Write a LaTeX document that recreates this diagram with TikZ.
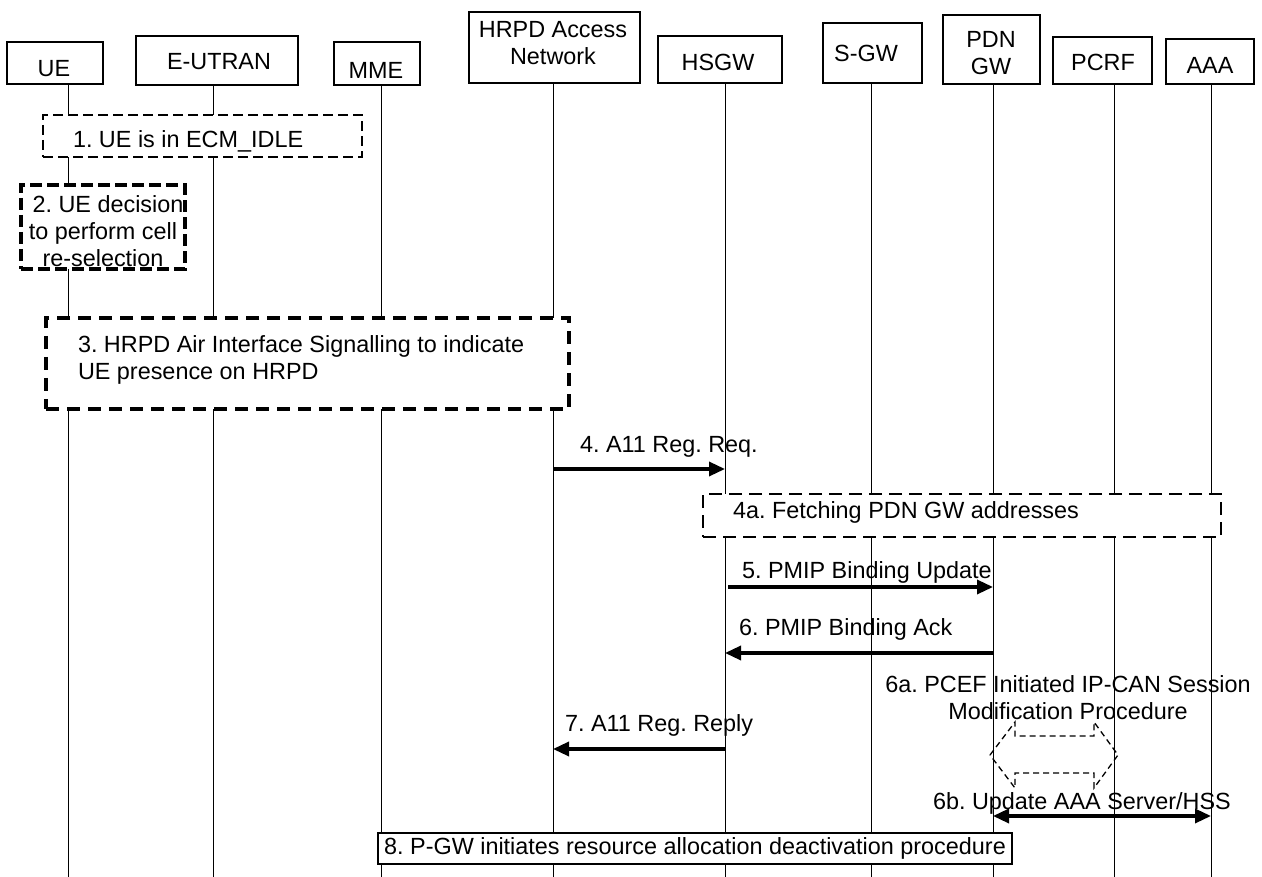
\documentclass[tikz,border=0pt]{standalone}
\usepackage{fontspec}
\setmainfont{Liberation Sans}
\usetikzlibrary{arrows.meta}
\begin{document}
\frenchspacing
\begin{tikzpicture}[x=1pt,y=-1pt,
  every node/.style={font=\fontsize{23.4}{27}\selectfont\frenchspacing, inner sep=0pt, outer sep=0pt},
  hbox/.style={draw, line width=1.3pt, fill=white},
  life/.style={line width=1pt},
  dboxA/.style={draw, fill=white, line width=2.7pt, dash pattern=on 10pt off 5pt},
  dboxB/.style={draw, fill=white, line width=3.3pt, dash pattern=on 12pt off 5pt},
  dboxC/.style={draw, fill=white, line width=4pt, dash pattern=on 13pt off 8pt},
  dboxD/.style={draw, fill=white, line width=2.7pt, dash pattern=on 13pt off 7pt},
  sbox/.style={draw, fill=white, line width=1.6pt},
  msg/.style={line width=3.3pt, -{Triangle[length=16pt,width=14pt]}},
  msgboth/.style={line width=3.3pt, {Triangle[length=16pt,width=14pt]}-{Triangle[length=16pt,width=14pt]}},
  hexa/.style={line width=1.3pt, dash pattern=on 6pt off 4pt},
  lbl/.style={anchor=base west}]
\useasboundingbox (0,0) rectangle (1262,877);

% lifelines
\foreach \n/\x in {ue/68,eu/213,mme/381,hrpd/553,hsgw/725,sgw/871,pdn/993,pcrf/1114,aaa/1211}{
  \coordinate (\n T) at (\x,84);
  \coordinate (\n B) at (\x,877);
  \draw[life] (\n T) -- (\n B);
}

% header boxes
\node[hbox, minimum width=96pt, minimum height=42pt] (ue) at (55,63) {};
\node (uet) at (54,69) {UE};
\node[hbox, minimum width=162pt, minimum height=49pt] (eu) at (217,60.5) {};
\node (eut) at (219,62) {E-UTRAN};
\node[hbox, minimum width=86pt, minimum height=43pt] (mme) at (377,63.5) {};
\node (mmet) at (376,70) {MME};
\node[hbox, minimum width=171pt, minimum height=71pt] (hrpd) at (554.5,47.5) {};
\node[align=center] (hrpdt) at (553,43) {HRPD Access\\Network};
\node[hbox, minimum width=124pt, minimum height=47pt] (hsgw) at (720,59.5) {};
\node (hsgwt) at (718,62) {HSGW};
\node[hbox, minimum width=99pt, minimum height=60pt] (sgw) at (872.5,53) {};
\node (sgwt) at (866,53) {S-GW};
\node[hbox, minimum width=97pt, minimum height=69pt] (pdn) at (991.5,49.5) {};
\node[align=center] (pdnt) at (991,53) {PDN\\GW};
\node[hbox, minimum width=99pt, minimum height=47pt] (pcrf) at (1102.5,60.5) {};
\node (pcrft) at (1103,62) {PCRF};
\node[hbox, minimum width=88pt, minimum height=45pt] (aaa) at (1210,61.5) {};
\node (aaat) at (1210,65) {AAA};

% step 1
\node[dboxA, minimum width=319pt, minimum height=42pt] (s1) at (202.5,136) {};
\node[lbl] (s1t) at (73,148) {1. UE is in ECM\_IDLE};

% step 2
\node[dboxB, minimum width=164pt, minimum height=84pt] (s2) at (103,227) {};
\node[align=center] (s2t) at (103,231) {\hspace*{10pt}2. UE decision\\to perform cell\\re-selection};

% step 3
\node[dboxC, minimum width=523pt, minimum height=91pt] (s3) at (307.5,363.5) {};
\node[anchor=west, align=left] (s3t) at (78,359.5) {3. HRPD Air Interface Signalling to indicate\\UE presence on HRPD};

% step 4
\coordinate (m4a) at (553,469);
\coordinate (m4b) at (725,469);
\draw[msg] (m4a) -- (m4b);
\node[lbl] (m4t) at (580,453) {4. A11 Reg. Req.};

% step 4a
\node[dboxD, minimum width=518pt, minimum height=43pt] (s4a) at (962,515.5) {};
\node[lbl] (s4at) at (733,518) {4a. Fetching PDN GW addresses};

% step 5
\coordinate (m5a) at (728,587);
\coordinate (m5b) at (993,587);
\draw[msg] (m5a) -- (m5b);
\node[lbl] (m5t) at (742,578) {5. PMIP Binding Update};

% step 6
\coordinate (m6a) at (993,653);
\coordinate (m6b) at (725,653);
\draw[msg] (m6a) -- (m6b);
\node[lbl] (m6t) at (739,635) {6. PMIP Binding Ack};

% step 6a
\node[align=center] (s6at) at (1068,698) {6a. PCEF Initiated IP-CAN Session\\Modification Procedure};
\draw[hexa] (990,755) -- (1015,722) -- (1015,736) -- (1094,736) -- (1094,722) -- (1118,755)
  -- (1094,788) -- (1094,773) -- (1015,773) -- (1015,788) -- cycle;

% step 7
\coordinate (m7a) at (725,749);
\coordinate (m7b) at (553,749);
\draw[msg] (m7a) -- (m7b);
\node[lbl] (m7t) at (565,731) {7. A11 Reg. Reply};

% step 6b
\node[lbl] (m6bt) at (933,809) {6b. Update AAA Server/HSS};
\coordinate (m6ba) at (993,816);
\coordinate (m6bb) at (1211,816);
\draw[msgboth] (m6ba) -- (m6bb);

% step 8
\node[sbox, minimum width=634pt, minimum height=31pt] (s8) at (695,848.5) {8. P-GW initiates resource allocation deactivation procedure};
\end{tikzpicture}
\end{document}
